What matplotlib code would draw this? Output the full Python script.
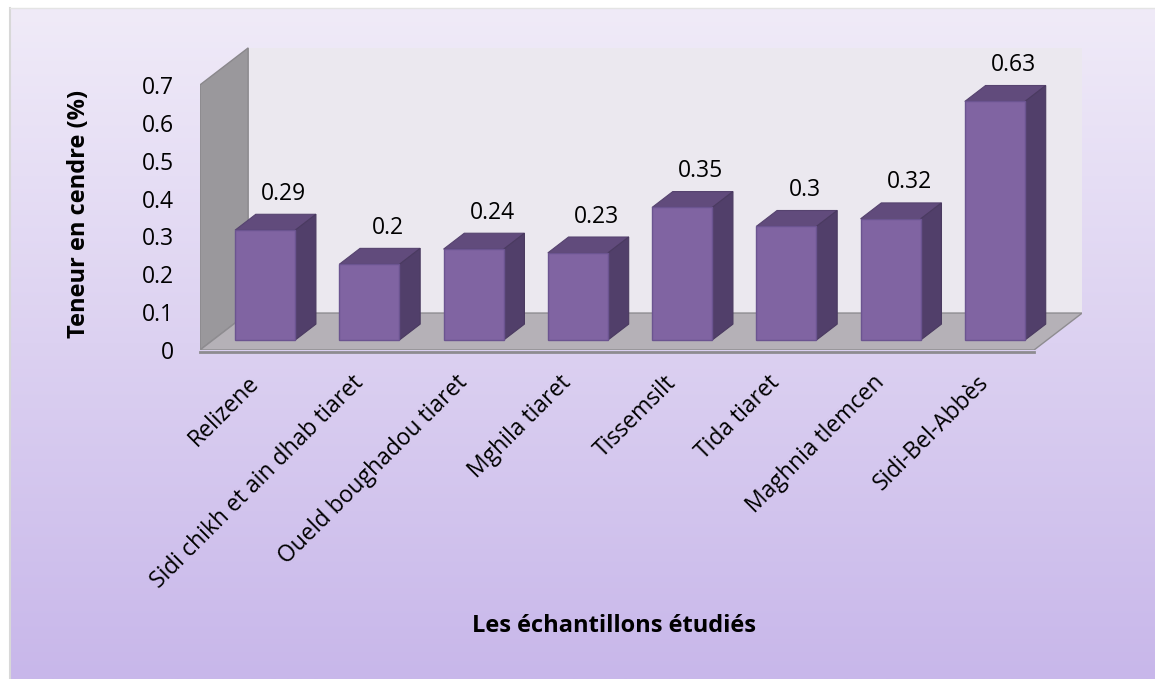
import numpy as np
import matplotlib.pyplot as plt
from matplotlib.patches import Polygon

plt.rcParams['font.family'] = ['Open Sans', 'DejaVu Sans']

categories = ["Relizene", "Sidi chikh et ain dhab tiaret", "Oueld boughadou tiaret",
              "Mghila tiaret", "Tissemsilt", "Tida tiaret", "Maghnia tlemcen", "Sidi-Bel-Abbès"]
values = [0.29, 0.2, 0.24, 0.23, 0.35, 0.3, 0.32, 0.63]
value_labels = ["0.29", "0.2", "0.24", "0.23", "0.35", "0.3", "0.32", "0.63"]
yticks = [0, 0.1, 0.2, 0.3, 0.4, 0.5, 0.6, 0.7]

W, H = 1155, 679
fig = plt.figure(figsize=(W / 100, H / 100), dpi=100)

# background: white frame + lavender gradient
bg = fig.add_axes([0, 0, 1, 1])
bg.set_xlim(0, W)
bg.set_ylim(H, 0)
bg.axis('off')
top_c = np.array([0xf0, 0xeb, 0xf8]) / 255
bot_c = np.array([0xc8, 0xb7, 0xea]) / 255
t = np.linspace(0, 1, 256)[:, None, None]
grad = top_c * (1 - t) + bot_c * t
bg.imshow(np.repeat(grad, 2, axis=1), extent=[10, W, H, 8], aspect='auto', zorder=1)
bg.plot([10, 10], [8, H], color='#d8d8d8', lw=1.5, zorder=2)
bg.plot([10, W], [8, 8], color='#e4e4e4', lw=1, zorder=2)

# plot area (front plane): left = front floor corner, bottom = floor front edge
ax = fig.add_axes([200 / W, 1 - 350 / H, 882 / W, 303 / H])
ax.set_xlim(-0.5, 7.96)
ax.set_ylim(0, 0.80)
ax.patch.set_alpha(0)
for s in ax.spines.values():
    s.set_visible(False)

Dx, Dy = 0.462, 0.0976        # full depth offset in data units
f0, f1 = 0.27, 0.70           # bar depth range (fraction of depth)
bw = 0.577
top = 0.7
x0, x1 = -0.5, 7.5

# walls and floor
ax.add_patch(Polygon([(x0 + Dx, Dy), (x1 + Dx, Dy), (x1 + Dx, top + Dy), (x0 + Dx, top + Dy)],
                     closed=True, fc='#ebe8ef', ec='none', zorder=1))
ax.add_patch(Polygon([(x0, 0), (x0, top), (x0 + Dx, top + Dy), (x0 + Dx, Dy)],
                     closed=True, fc='#9a989c', ec='#8a888c', lw=1, zorder=2))
ax.add_patch(Polygon([(x0, 0), (x1, 0), (x1 + Dx, Dy), (x0 + Dx, Dy)],
                     closed=True, fc='#b5b1b7', ec='#8e8c90', lw=1, zorder=2))
ax.plot([x0, x1], [-0.004, -0.004], color='#8e8c90', lw=2, zorder=2, clip_on=False)

# bars: front face via ax.bar, top & side faces from the same values
xs = np.arange(len(values))
bx = xs + f0 * Dx
by = f0 * Dy
ax.bar(bx, values, width=bw, bottom=by, color='#8064a2', edgecolor='#6b5490',
       linewidth=1, zorder=4)
ddx, ddy = (f1 - f0) * Dx, (f1 - f0) * Dy
for xc, v in zip(bx, values):
    l, r = xc - bw / 2, xc + bw / 2
    yt = by + v
    ax.add_patch(Polygon([(l, yt), (r, yt), (r + ddx, yt + ddy), (l + ddx, yt + ddy)],
                         closed=True, fc='#614b7c', ec='#56436f', lw=0.8, zorder=3))
    ax.add_patch(Polygon([(r, by), (r, yt), (r + ddx, yt + ddy), (r + ddx, by + ddy)],
                         closed=True, fc='#513f6a', ec='#4a3a60', lw=0.8, zorder=3))

for xc, v, lab in zip(bx, values, value_labels):
    ax.text(xc + ddx * 0.9, by + v + ddy + 0.054, lab, ha='center', va='center',
            fontsize=16.5, color='black', zorder=5)

# y ticks on the front wall edge
ax.set_yticks(yticks)
ax.set_yticklabels([f"{v:g}" for v in yticks], fontsize=16.5)
ax.tick_params(axis='y', length=0, pad=19)
ax.set_xticks([])

for xc, lab in zip(xs, categories):
    ax.text(xc + 0.03, -0.078, lab, rotation=45, rotation_mode='anchor',
            ha='right', va='center', fontsize=16.5, clip_on=False)

fig.text(79 / W, 1 - 214 / H, "Teneur en cendre (%)", rotation=90, ha='center', va='center',
         fontsize=17, fontweight='bold')
fig.text(614 / W, 1 - 626 / H, "Les échantillons étudiés", ha='center', va='center',
         fontsize=17, fontweight='bold')

fig.savefig('out.png', dpi=100)
